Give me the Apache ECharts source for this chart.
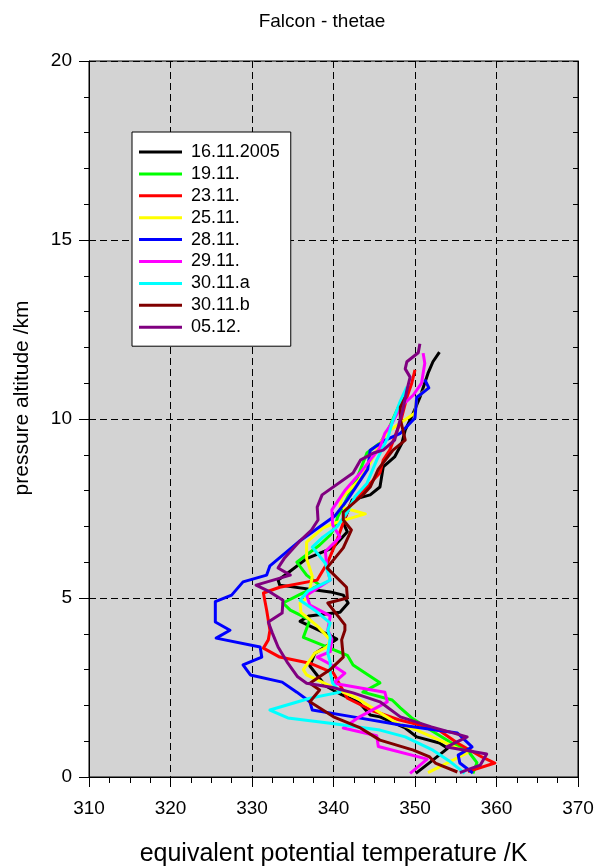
<!DOCTYPE html>
<html>
<head>
<meta charset="utf-8">
<script src="https://cdn.jsdelivr.net/npm/echarts/dist/echarts.min.js"></script>
<style>
html, body { margin: 0; padding: 0; background: #ffffff; }
#chart { width: 597px; height: 867px; }
</style>
</head>
<body>
<div id="chart"></div>
<script>
// Flight profiles: [equivalent potential temperature (K), pressure altitude (km)]
const flight_16_11 = [
  [350.1,0.1],[351.8,0.4],[354.0,0.8],[353.0,0.95],[350.2,1.12],[348.8,1.37],[345.7,1.68],[344.5,1.73],
  [343.2,2.07],[341.0,2.3],[339.0,2.55],[337.1,3.1],[337.7,3.45],[340.4,3.85],[339.6,3.95],[335.9,4.35],
  [337.0,4.5],[340.8,4.6],[341.8,4.86],[341.2,5.08],[339.6,5.17],[333.4,5.36],[333.2,5.5],[334.4,5.7],
  [336.7,6.1],[339.9,6.4],[341.7,6.85],[341.2,7.1],[342.3,7.74],[344.5,7.88],[345.7,8.1],[346.1,8.66],
  [347.5,8.94],[348.4,9.33],[348.8,9.69],[349.8,10.17],[350.6,10.6],[351.6,11.28],[352.2,11.6],[353.0,11.87]
];
const flight_19_11 = [
  [357.1,0.1],[357.6,0.4],[356.7,0.67],[355.5,0.84],[354.5,0.95],[352.0,1.3],[349.6,1.65],[348.2,1.93],
  [347.2,2.15],[343.6,2.37],[345.7,2.63],[342.4,3.13],[341.7,3.4],[338.5,3.7],[336.3,3.9],[337.1,4.39],
  [334.7,4.66],[333.8,4.86],[335.9,5.1],[338.3,5.36],[336.7,5.64],[335.5,6.0],[338.3,6.48],[339.6,6.76],
  [340.2,7.0],[340.5,7.26],[341.7,7.8],[342.9,8.35],[344.1,9.05],[345.7,9.33],[346.6,9.64],[347.5,10.1],
  [348.5,10.6],[349.3,10.9]
];
const flight_23_11 = [
  [356.5,0.15],[359.8,0.39],[358.2,0.56],[355.2,0.95],[353.0,1.3],[350.6,1.45],[348.0,1.6],[344.8,1.85],
  [341.7,2.2],[340.0,2.9],[337.1,3.18],[333.4,3.35],[331.4,3.6],[332.0,3.83],[332.2,4.1],[331.8,4.66],
  [331.4,5.14],[333.4,5.3],[338.0,5.5],[339.3,6.0],[340.4,6.6],[341.2,7.1],[342.0,7.6],[344.1,8.1],
  [345.7,8.5],[346.1,8.85],[346.9,9.13],[347.5,9.5],[348.2,9.9],[349.0,10.6],[349.6,11.0],[350.0,11.37]
];
const flight_25_11 = [
  [351.6,0.12],[356.4,0.67],[355.2,0.81],[353.0,1.03],[350.2,1.31],[347.8,1.5],[345.3,1.85],[342.9,2.2],
  [341.2,2.37],[336.7,2.85],[336.3,3.0],[337.7,3.46],[339.2,3.63],[339.6,3.83],[338.1,4.2],[336.0,4.6],
  [335.9,4.86],[336.9,5.03],[337.4,5.6],[336.7,6.1],[336.7,6.56],[338.7,6.95],[340.2,7.1],[343.9,7.35],
  [340.8,7.55],[341.0,7.8],[343.2,8.3],[344.5,8.77],[345.7,9.33],[347.0,9.7],[350.0,10.17],[350.2,10.6],
  [351.6,10.87]
];
const flight_28_11 = [
  [357.1,0.11],[355.5,0.39],[355.3,0.61],[357.0,0.84],[355.2,1.23],[348.2,1.45],[342.4,1.68],[337.4,1.87],
  [337.1,2.1],[335.5,2.37],[333.7,2.65],[329.8,2.85],[328.9,3.13],[331.2,3.35],[331.0,3.63],[325.6,3.88],
  [327.3,4.1],[325.5,4.33],[325.5,4.9],[327.5,5.08],[328.9,5.45],[331.8,5.64],[332.2,5.9],[335.9,6.6],
  [340.2,7.3],[341.7,7.74],[344.2,8.6],[344.5,9.13],[346.3,9.4],[348.2,9.6],[350.0,10.03],[350.2,10.6],
  [351.7,10.87],[351.2,11.1]
];
const flight_29_11 = [
  [349.4,0.1],[351.5,0.5],[345.5,0.85],[345.3,1.15],[341.2,1.37],[343.2,1.68],[346.6,2.1],[346.3,2.37],
  [340.0,2.62],[341.4,2.9],[340.4,3.05],[338.0,3.35],[339.6,3.5],[339.8,3.85],[339.3,4.1],[339.6,4.5],
  [337.1,4.8],[336.7,5.08],[339.6,5.5],[339.2,5.84],[339.0,6.3],[340.8,6.7],[339.9,7.04],[339.8,7.46],
  [341.4,8.0],[343.3,8.5],[344.5,8.85],[345.7,9.2],[346.3,9.6],[347.2,9.89],[348.2,10.33],[349.8,10.67],
  [350.8,11.0],[351.2,11.56],[351.0,11.84]
];
const flight_30_11_a = [
  [356.1,0.1],[354.2,0.45],[352.2,0.75],[348.8,1.12],[345.7,1.31],[339.6,1.5],[334.4,1.65],[332.2,1.87],
  [337.1,2.2],[340.8,2.37],[339.9,2.62],[339.6,2.9],[339.6,3.2],[339.3,3.46],[339.6,3.9],[339.3,4.1],
  [339.6,4.3],[337.7,4.66],[335.9,4.94],[336.9,5.2],[339.6,5.5],[339.0,5.97],[337.4,6.42],[338.7,6.7],
  [340.4,6.98],[341.7,7.4],[342.6,7.82],[344.1,8.2],[345.3,8.85],[346.7,9.5],[347.2,9.9],[348.2,10.5],
  [349.0,10.9]
];
const flight_30_11_b = [
  [355.2,0.14],[352.5,0.39],[351.8,0.56],[349.8,0.75],[345.7,1.03],[343.3,1.37],[340.0,1.68],[337.1,2.1],
  [338.3,2.43],[337.1,2.62],[339.6,3.0],[341.2,3.35],[341.0,3.83],[341.4,4.1],[341.4,4.25],[339.3,4.86],
  [341.7,5.0],[341.6,5.3],[339.2,5.84],[341.2,6.4],[342.2,6.9],[341.2,7.18],[341.2,7.4],[343.6,7.88],
  [344.5,8.1],[345.5,8.6],[347.3,9.13],[348.8,9.41],[348.2,10.0],[348.2,10.33],[348.8,10.6]
];
const flight_05_12 = [
  [355.5,0.12],[358.0,0.33],[358.8,0.64],[353.9,0.84],[356.4,1.12],[352.0,1.4],[348.2,1.68],[345.7,2.1],
  [342.4,2.35],[339.9,2.5],[336.7,2.62],[335.6,2.8],[334.4,3.18],[333.2,3.63],[332.5,4.02],[332.0,4.33],
  [333.7,4.58],[333.8,4.94],[332.2,5.17],[330.5,5.36],[334.7,5.64],[333.2,5.84],[334.0,6.12],[335.9,6.6],
  [337.3,6.9],[338.1,7.18],[338.0,7.54],[338.6,7.88],[342.4,8.49],[343.3,8.85],[344.9,9.05],[346.1,9.13],
  [347.5,9.41],[348.5,10.25],[349.0,10.8],[349.4,11.17],[348.8,11.4],[349.0,11.6],[350.4,11.85],[350.6,12.1]
];

const flightLabels = ['16.11.2005','19.11.','23.11.','25.11.','28.11.','29.11.','30.11.a','30.11.b','05.12.'];
const flightData = [flight_16_11, flight_19_11, flight_23_11, flight_25_11, flight_28_11,
                    flight_29_11, flight_30_11_a, flight_30_11_b, flight_05_12];
const flightColors = ['#000000','#00ff00','#ff0000','#ffff00','#0000ff','#ff00ff','#00ffff','#800000','#800080'];

const tempTicks = [310, 320, 330, 340, 350, 360, 370];
const altTicks = [0, 5, 10, 15, 20];

const FONT = '"Liberation Sans", Arial, Helvetica, sans-serif';

const chart = echarts.init(document.getElementById('chart'), null, { renderer: 'canvas' });

const gridDash = { color: '#000000', width: 1, type: [7, 4] };

const series = flightData.map((d, i) => ({
  name: flightLabels[i],
  type: 'line',
  data: d,
  showSymbol: false,
  symbol: 'none',
  smooth: false,
  clip: true,
  lineStyle: { color: flightColors[i], width: 3, join: 'round' },
  itemStyle: { color: flightColors[i] },
  emphasis: { disabled: true }
}));

chart.setOption({
  animation: false,
  backgroundColor: '#ffffff',
  textStyle: { fontFamily: FONT },
  graphic: [{
    type: 'text',
    x: 322, y: 22,
    style: {
      text: 'Falcon - thetae',
      textAlign: 'center', textVerticalAlign: 'middle',
      font: '19px ' + FONT, fill: '#000000'
    }
  }, {
    type: 'text',
    x: 22, y: 398,
    rotation: Math.PI / 2,
    style: {
      text: 'pressure altitude /km',
      textAlign: 'center', textVerticalAlign: 'middle',
      font: '21px ' + FONT, fill: '#000000'
    }
  }],
  grid: {
    left: 89, right: 19, top: 61, bottom: 90,
    containLabel: false,
    outerBoundsMode: 'none',
    show: true, backgroundColor: '#d3d3d3', borderColor: '#000000', borderWidth: 1
  },
  legend: {
    orient: 'vertical',
    left: 132, top: 132,
    padding: [11, 11, 10, 7],
    itemGap: 3.9,
    itemWidth: 43, itemHeight: 3,
    icon: 'rect',
    selectedMode: false,
    backgroundColor: '#ffffff',
    borderColor: '#000000', borderWidth: 1,
    textStyle: { fontFamily: FONT, fontSize: 18, color: '#000000', lineHeight: 17, padding: [0, 0, 0, 4] },
    data: flightLabels
  },
  xAxis: [{
    type: 'value', position: 'bottom',
    min: tempTicks[0], max: tempTicks[tempTicks.length - 1], interval: 10,
    name: 'equivalent potential temperature /K',
    nameLocation: 'middle', nameGap: 65,
    nameTextStyle: { fontFamily: FONT, fontSize: 25, color: '#000000' },
    axisLine: { show: true, lineStyle: { color: '#000000', width: 1 } },
    axisTick: { show: true, inside: false, length: 10, lineStyle: { color: '#000000' } },
    minorTick: { show: true, splitNumber: 4, length: 6, lineStyle: { color: '#000000' } },
    axisLabel: { fontFamily: FONT, fontSize: 19, color: '#000000', margin: 22 },
    splitLine: { show: true, lineStyle: gridDash }
  }, {
    type: 'value', position: 'top',
    min: tempTicks[0], max: tempTicks[tempTicks.length - 1], interval: 10,
    axisLine: { show: true, lineStyle: { color: '#000000', width: 1 } },
    axisTick: { show: true, inside: true, length: 5, lineStyle: { color: '#000000' } },
    minorTick: { show: true, splitNumber: 4, length: 5, lineStyle: { color: '#000000' } },
    axisLabel: { show: false },
    splitLine: { show: false }
  }],
  yAxis: [{
    type: 'value', position: 'left',
    min: altTicks[0], max: altTicks[altTicks.length - 1], interval: 5,
    axisLine: { show: true, lineStyle: { color: '#000000', width: 1 } },
    axisTick: { show: true, inside: false, length: 10, lineStyle: { color: '#000000' } },
    minorTick: { show: true, splitNumber: 5, length: 5, lineStyle: { color: '#000000' } },
    axisLabel: { fontFamily: FONT, fontSize: 19, color: '#000000', margin: 17 },
    splitLine: { show: true, lineStyle: gridDash }
  }, {
    type: 'value', position: 'right',
    min: altTicks[0], max: altTicks[altTicks.length - 1], interval: 5,
    axisLine: { show: true, lineStyle: { color: '#000000', width: 1 } },
    axisTick: { show: true, inside: true, length: 5, lineStyle: { color: '#000000' } },
    minorTick: { show: true, splitNumber: 5, length: 5, lineStyle: { color: '#000000' } },
    axisLabel: { show: false },
    splitLine: { show: false }
  }],
  series: series
});
</script>
</body>
</html>
